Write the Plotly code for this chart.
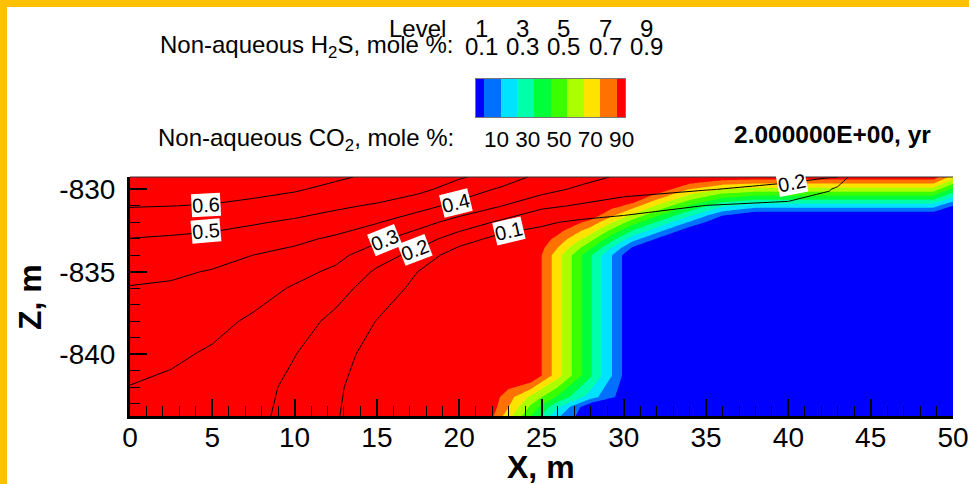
import plotly.graph_objects as go

W, H = 969, 484

# ---------------- CO2 field (non-aqueous CO2, mole %) ----------------
co2_x = [0, 20, 21.6, 23, 24.4, 26, 28, 30.5, 32, 34, 36, 38, 40, 45, 48.8, 50]
co2_z = [-843.75, -843.2, -842.6, -841.3, -834.0, -833.5, -833.0, -832.5,
         -832.0, -831.6, -831.2, -830.8, -830.4, -830.0, -829.6, -829.25]
co2_pct = [
    [100, 100, 98.3, 73.9, 49.6, 21.7, 0, 0, 0, 0, 0, 0, 0, 0, 0, 0],
    [100, 100, 100, 80.2, 57.4, 31.3, 0, 0, 0, 0, 0, 0, 0, 0, 0, 0],
    [100, 100, 100, 84.0, 67.4, 48.3, 24.5, 0, 0, 0, 0, 0, 0, 0, 0, 0],
    [100, 100, 100, 100, 100, 73.8, 41.0, 0, 0, 0, 0, 0, 0, 0, 0, 0],
    [100, 100, 100, 100, 100, 73.8, 41.0, 0, 0, 0, 0, 0, 0, 0, 0, 0],
    [100, 100, 100, 100, 100, 80.3, 52.3, 10.3, 0, 0, 0, 0, 0, 0, 0, 0],
    [100, 100, 100, 100, 100, 86.9, 63.7, 25.1, 9.5, 0, 0, 0, 0, 0, 0, 0],
    [100, 100, 100, 100, 100, 93.4, 75.0, 40.2, 24.3, 3.6, 0, 0, 0, 0, 0, 0],
    [100, 100, 100, 100, 100, 100, 86.4, 55.3, 39.1, 18.8, 0, 0, 0, 0, 0, 0],
    [100, 100, 100, 100, 100, 100, 95.5, 67.4, 51.0, 31.0, 9.7, 0, 0, 0, 0, 0],
    [100, 100, 100, 100, 100, 100, 100, 79.5, 62.8, 43.2, 24.7, 16.4, 16.4, 16.4, 16.4, 2.6],
    [100, 100, 100, 100, 100, 100, 100, 91.5, 74.7, 55.3, 39.6, 32.9, 32.9, 32.9, 32.9, 17.4],
    [100, 100, 100, 100, 100, 100, 100, 100, 86.5, 67.5, 54.6, 49.3, 49.3, 49.3, 49.3, 32.3],
    [100, 100, 100, 100, 100, 100, 100, 100, 98.4, 79.6, 69.5, 65.7, 65.7, 65.7, 65.7, 47.1],
    [100, 100, 100, 100, 100, 100, 100, 100, 100, 91.8, 84.5, 82.1, 82.1, 82.1, 82.1, 62.0],
    [100, 100, 100, 100, 100, 100, 100, 100, 100, 100, 97.4, 96.5, 96.5, 96.5, 96.5, 75.0],
]

# ---------------- H2S field (non-aqueous H2S, mole %) ----------------
h2s_x = [0, 2.5, 5, 7.5, 10, 12.5, 15, 17.5, 20, 22.5, 25, 27.5, 30, 35, 40, 42.5, 43, 44, 50]
h2s_z = [-843.75, -842, -840, -838, -836, -835, -834, -833, -832, -831, -830, -829.25]
h2s_pct = [
    [0.270, 0.255, 0.240, 0.225, 0.166, 0.106, 0.045, 0.020, 0.003, 0.001, 0, 0, 0, 0, 0, 0, 0, 0, 0],
    [0.298, 0.281, 0.257, 0.235, 0.176, 0.113, 0.050, 0.025, 0.004, 0.002, 0, 0, 0, 0, 0, 0, 0, 0, 0],
    [0.330, 0.316, 0.288, 0.250, 0.203, 0.135, 0.064, 0.035, 0.006, 0.003, 0.001, 0, 0, 0, 0, 0, 0, 0, 0],
    [0.363, 0.352, 0.327, 0.285, 0.240, 0.177, 0.097, 0.050, 0.010, 0.006, 0.003, 0, 0, 0, 0, 0, 0, 0, 0],
    [0.395, 0.388, 0.371, 0.339, 0.290, 0.235, 0.155, 0.075, 0.018, 0.012, 0.006, 0, 0, 0, 0, 0, 0, 0, 0],
    [0.426, 0.414, 0.394, 0.369, 0.330, 0.281, 0.186, 0.099, 0.025, 0.020, 0.010, 0.005, 0, 0, 0, 0, 0, 0, 0],
    [0.462, 0.452, 0.432, 0.399, 0.372, 0.328, 0.242, 0.169, 0.040, 0.040, 0.020, 0.015, 0.008, 0, 0, 0, 0, 0, 0],
    [0.498, 0.489, 0.477, 0.454, 0.422, 0.384, 0.323, 0.247, 0.151, 0.065, 0.060, 0.040, 0.025, 0.015, 0.010, 0, 0, 0, 0],
    [0.551, 0.542, 0.531, 0.509, 0.485, 0.451, 0.406, 0.338, 0.261, 0.183, 0.114, 0.080, 0.060, 0.040, 0.030, 0.020, 0.015, 0.005, 0],
    [0.605, 0.601, 0.594, 0.575, 0.548, 0.518, 0.487, 0.437, 0.370, 0.304, 0.222, 0.187, 0.156, 0.097, 0.075, 0.050, 0.035, 0.015, 0],
    [0.650, 0.655, 0.645, 0.630, 0.610, 0.574, 0.565, 0.525, 0.456, 0.387, 0.338, 0.275, 0.236, 0.205, 0.167, 0.106, 0.070, 0.030, 0.010],
    [0.680, 0.680, 0.675, 0.660, 0.640, 0.615, 0.580, 0.550, 0.510, 0.460, 0.370, 0.338, 0.280, 0.250, 0.230, 0.205, 0.205, 0.040, 0.020],
]

# contour levels
co2_start, co2_end, co2_step = 10, 90, 10
h2s_start, h2s_end, h2s_step = 0.1, 0.9, 0.1

# flood colours, lowest band (<10 %) to highest band (>90 %)
band_colors = ["#0000FF", "#0071FF", "#00E3FF", "#00FFAA", "#00FF39",
               "#39FF00", "#AAFF00", "#FFE300", "#FF7100", "#FF0000"]
# legend swatch: band edges and the representative value of each band
band_edges = [5, 10, 20, 30, 40, 50, 60, 70, 80, 90, 95]
band_values = [5, 15, 25, 35, 45, 55, 65, 75, 85, 95]
legend_ticks = [10, 30, 50, 70, 90]
level_numbers = [1, 3, 5, 7, 9]
h2s_legend_values = [0.1, 0.3, 0.5, 0.7, 0.9]

# axis tick labels
x_ticks = [0, 5, 10, 15, 20, 25, 30, 35, 40, 45, 50]
z_ticks = [-830, -835, -840]
z_tick_text = ["-830", "-835", "-840"]

# in-line contour labels: (level, x, z, angle)
contour_labels = [
    (0.6, 4.6, -830.95, -3),
    (0.5, 4.6, -832.55, -5),
    (0.4, 19.8, -830.85, -14),
    (0.3, 15.5, -833.1, -22),
    (0.2, 17.3, -833.68, -21),
    (0.1, 23.0, -832.55, -13),
    (0.2, 40.2, -829.64, -11),
]

FONT = "Liberation Sans, Arial, Helvetica, sans-serif"
n = len(band_colors)
colorscale = [[i / (n - 1), c] for i, c in enumerate(band_colors)]


def fx(px):
    return px / W


def fy(py):
    return 1 - py / H


plot_l, plot_r, plot_t, plot_b = 130, 953, 177, 416

fig = go.Figure()

fig.add_trace(go.Contour(
    x=co2_x, y=co2_z, z=co2_pct,
    colorscale=colorscale, autocontour=False,
    contours=dict(start=co2_start, end=co2_end, size=co2_step,
                  coloring="fill", showlines=False),
    line=dict(width=0, smoothing=0),
    showscale=False, hoverinfo="skip",
))

fig.add_trace(go.Contour(
    x=h2s_x, y=h2s_z, z=h2s_pct,
    autocontour=False,
    contours=dict(start=h2s_start, end=h2s_end, size=h2s_step, coloring="none"),
    line=dict(color="black", width=1, smoothing=0),
    showscale=False, hoverinfo="skip",
))

# legend swatch
fig.add_trace(go.Heatmap(
    x=band_edges, y=[0, 1], z=[band_values],
    colorscale=colorscale, zmin=band_values[0], zmax=band_values[-1],
    showscale=False, hoverinfo="skip", xaxis="x2", yaxis="y2",
))

tick_font = dict(family=FONT, size=28, color="black")

fig.update_layout(
    width=W, height=H, autosize=False,
    margin=dict(l=0, r=0, t=0, b=0, pad=0),
    paper_bgcolor="white", plot_bgcolor="white",
    showlegend=False,
    font=dict(family=FONT, color="black"),
    xaxis=dict(
        domain=[fx(plot_l), fx(plot_r)], range=[0, 50], automargin=False,
        tickvals=x_ticks, ticks="inside", ticklen=17, tickwidth=2, tickcolor="black",
        minor=dict(dtick=1, tick0=0, ticks="inside", ticklen=10, tickwidth=1,
                   tickcolor="black", showgrid=False),
        showline=True, linewidth=3, linecolor="black",
        showgrid=False, zeroline=False, tickfont=tick_font,
        ticklabelstandoff=-6,
    ),
    yaxis=dict(
        domain=[fy(plot_b), fy(plot_t)], range=[-843.75, -829.25], automargin=False,
        tickvals=z_ticks, ticktext=z_tick_text,
        ticks="inside", ticklen=17, tickwidth=2, tickcolor="black",
        minor=dict(dtick=1, tick0=-830, ticks="inside", ticklen=10, tickwidth=1,
                   tickcolor="black", showgrid=False),
        showline=True, linewidth=3, linecolor="black",
        showgrid=False, zeroline=False, tickfont=tick_font,
        ticklabelstandoff=6,
    ),
    xaxis2=dict(
        domain=[fx(476), fx(625)], range=[band_edges[0], band_edges[-1]], anchor="y2",
        automargin=False, showticklabels=False,
        ticks="", showgrid=False, zeroline=False,
        showline=True, mirror=True, linecolor="#777", linewidth=1,
    ),
    yaxis2=dict(
        domain=[fy(117), fy(79)], range=[0, 1], anchor="x2", automargin=False,
        showticklabels=False, ticks="", showgrid=False, zeroline=False,
        showline=True, mirror=True, linecolor="#777", linewidth=1,
    ),
)

shapes = [
    # thin frame along the top of the plot area
    dict(type="line", xref="x domain", yref="y domain", x0=0, x1=1, y0=1, y1=1,
         line=dict(color="#333", width=1)),
    # page border strips
    dict(type="rect", xref="paper", yref="paper", x0=0, x1=fx(7), y0=0, y1=1,
         fillcolor="#FFC000", line=dict(width=0), layer="above"),
    dict(type="rect", xref="paper", yref="paper", x0=0, x1=1, y0=fy(7), y1=1,
         fillcolor="#FFC000", line=dict(width=0), layer="above"),
]
fig.update_layout(shapes=shapes)

ann = []
for lvl, lx, lz, ang in contour_labels:
    ann.append(dict(x=lx, y=lz, xref="x", yref="y", text=f"{lvl:.1f}",
                    showarrow=False, bgcolor="white", borderpad=0, textangle=ang,
                    font=dict(family=FONT, size=20, color="black")))

leg_font = dict(family=FONT, size=24, color="black")
ann.append(dict(x=fx(448), y=fy(28), xref="paper", yref="paper", text="Level",
                xanchor="right", yanchor="middle", showarrow=False, font=leg_font))
ann.append(dict(x=fx(456), y=fy(47), xref="paper", yref="paper",
                text="Non-aqueous H<sub>2</sub>S, mole %:",
                xanchor="right", yanchor="middle", showarrow=False, font=leg_font))
ann.append(dict(x=fx(456), y=fy(140), xref="paper", yref="paper",
                text="Non-aqueous CO<sub>2</sub>, mole %:",
                xanchor="right", yanchor="middle", showarrow=False, font=leg_font))
for k, (num, val) in enumerate(zip(level_numbers, h2s_legend_values)):
    cx = 481.5 + 41.2 * k
    ann.append(dict(x=fx(cx), y=fy(28), xref="paper", yref="paper", text=str(num),
                    xanchor="center", yanchor="middle", showarrow=False, font=leg_font))
    ann.append(dict(x=fx(cx), y=fy(47), xref="paper", yref="paper", text=f"{val:.1f}",
                    xanchor="center", yanchor="middle", showarrow=False, font=leg_font))

# flood legend level labels under the swatch
ann.append(dict(x=fx(482), y=fy(140), xref="paper", yref="paper",
                text=" ".join(str(v) for v in legend_ticks),
                xanchor="left", yanchor="middle", showarrow=False,
                font=dict(family=FONT, size=22.5, color="black")))

ann.append(dict(x=fx(933), y=fy(134), xref="paper", yref="paper",
                text="<b>2.000000E+00, yr</b>", xanchor="right", yanchor="middle",
                showarrow=False, font=dict(family=FONT, size=24.5, color="black")))

# axis titles
ann.append(dict(x=fx(541), y=fy(467), xref="paper", yref="paper", text="<b>X, m</b>",
                xanchor="center", yanchor="middle", showarrow=False,
                font=dict(family=FONT, size=32, color="black")))
ann.append(dict(x=fx(30), y=fy(297), xref="paper", yref="paper", text="<b>Z, m</b>",
                textangle=-90, xanchor="center", yanchor="middle", showarrow=False,
                font=dict(family=FONT, size=32, color="black")))

fig.update_layout(annotations=ann)

page_reset = ("document.body.style.margin='0';"
              "document.body.style.padding='0';"
              "document.body.style.overflow='hidden';")

fig.write_html("out.html", config={"responsive": False}, post_script=page_reset)
